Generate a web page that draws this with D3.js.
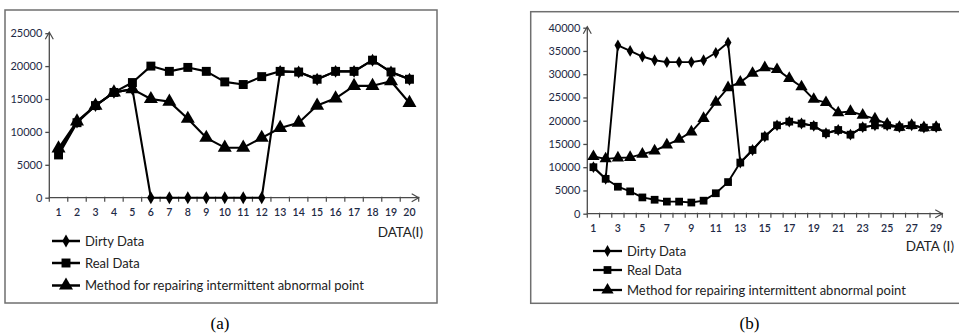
<!DOCTYPE html>
<html>
<head>
<meta charset="utf-8">
<script src="https://cdn.jsdelivr.net/npm/d3@7"></script>
<style>
  html, body { margin: 0; padding: 0; background: #fff; }
  svg { display: block; }
</style>
</head>
<body>
<svg id="chart" width="959" height="334"></svg>
<script>
// ---- Panel (a): 20 samples ----
const categoriesA = [1,2,3,4,5,6,7,8,9,10,11,12,13,14,15,16,17,18,19,20];
const tickLabelsA = ["1","2","3","4","5","6","7","8","9","10","11","12","13","14","15","16","17","18","19","20"];
const yTicksA = [0, 5000, 10000, 15000, 20000, 25000];
const dirtyA  = [7000, 11500, 14000, 16000, 16500, 0, 0, 0, 0, 0, 0, 0, 19200, 19100, 18000, 19200, 19200, 20900, 19100, 18000];
const realA   = [6500, 11400, 14000, 16000, 17500, 20000, 19200, 19800, 19200, 17600, 17200, 18400, 19200, 19100, 18000, 19200, 19200, 20900, 19100, 18000];
const methodA = [7500, 11600, 14000, 16000, 16500, 15000, 14600, 12000, 9100, 7600, 7600, 9100, 10600, 11400, 14000, 15100, 17000, 17000, 17700, 14400];

// ---- Panel (b): 29 samples ----
const categoriesB = [1,2,3,4,5,6,7,8,9,10,11,12,13,14,15,16,17,18,19,20,21,22,23,24,25,26,27,28,29];
const tickLabelsB = ["1","","3","","5","","7","","9","","11","","13","","15","","17","","19","","21","","23","","25","","27","","29"];
const yTicksB = [0, 5000, 10000, 15000, 20000, 25000, 30000, 35000, 40000];
const dirtyB  = [10000, 7500, 36200, 35000, 33800, 33000, 32600, 32600, 32600, 33000, 34600, 36800, 11000, 13700, 16600, 19000, 19800, 19400, 18900, 17300, 18000, 17000, 18600, 19000, 19000, 18600, 19000, 18500, 18600];
const realB   = [10000, 7500, 5800, 4800, 3500, 3000, 2600, 2600, 2400, 2800, 4400, 6800, 11000, 13700, 16600, 19000, 19800, 19400, 18900, 17300, 18000, 17000, 18600, 19000, 19000, 18600, 19000, 18500, 18600];
const methodB = [12300, 11800, 12000, 12100, 12800, 13500, 14800, 16000, 17600, 20500, 24000, 27100, 28300, 30200, 31400, 31000, 29100, 27300, 24600, 23900, 21700, 22000, 21200, 20400, 19300, 18600, 19000, 18500, 18600];

const legendLabels = ["Dirty Data", "Real Data", "Method for repairing intermittent abnormal point"];

const svg = d3.select("#chart");
const FONT = "Lato, 'Open Sans', sans-serif";
const TICK_COLOR = "#1e2a45";
const AXIS_COLOR = "#4a4a4a";

function markerPath(kind, s) {
  const sym = kind === "diamond" ? d3.symbolDiamond : kind === "square" ? d3.symbolSquare : d3.symbolTriangle;
  return d3.symbol().type(sym).size(s)();
}

function drawPanel(p) {
  const g = svg.append("g");

  // frame
  g.append("rect")
    .attr("x", p.frame.x).attr("y", p.frame.y)
    .attr("width", p.frame.w).attr("height", p.frame.h)
    .attr("fill", "none").attr("stroke", "#6f6f6f").attr("stroke-width", 1.5);

  const x = d3.scaleBand().domain(p.categories).range([p.x0, p.x0 + p.bw * p.categories.length]).padding(0);
  const y = d3.scaleLinear().domain([0, p.yMax]).range([p.y0, p.yTop]);

  // y axis
  const yAxis = d3.axisLeft(y).tickValues(p.yTicks).tickSize(4).tickPadding(3).tickFormat(d3.format("d"));
  const ya = g.append("g").attr("transform", `translate(${p.x0},0)`).call(yAxis);
  ya.select(".domain").remove();
  ya.selectAll("line").attr("stroke", AXIS_COLOR).attr("stroke-width", 1.3);
  ya.selectAll("text").attr("font-family", FONT).attr("font-size", p.yFont).attr("fill", TICK_COLOR);
  g.append("line").attr("x1", p.x0).attr("x2", p.x0).attr("y1", p.y0).attr("y2", p.yTop - 1)
    .attr("stroke", AXIS_COLOR).attr("stroke-width", 1.3);
  g.append("path")
    .attr("d", `M${p.x0 - 4},${p.yTop + 6}L${p.x0},${p.yTop - 1}L${p.x0 + 4},${p.yTop + 6}`)
    .attr("fill", "none").attr("stroke", AXIS_COLOR).attr("stroke-width", 1.2);

  // x axis: ticks on band boundaries, labels at band centres
  const xEnd = p.x0 + p.bw * p.categories.length;
  g.append("line").attr("x1", p.x0).attr("x2", xEnd).attr("y1", p.y0).attr("y2", p.y0)
    .attr("stroke", AXIS_COLOR).attr("stroke-width", 1.3);
  g.append("path")
    .attr("d", `M${xEnd - 7},${p.y0 - 4}L${xEnd},${p.y0}L${xEnd - 7},${p.y0 + 4}`)
    .attr("fill", "none").attr("stroke", AXIS_COLOR).attr("stroke-width", 1.2);
  const bounds = p.categories.map(c => x(c)).concat([xEnd]);
  g.selectAll(".xt").data(bounds).join("line")
    .attr("x1", d => d).attr("x2", d => d).attr("y1", p.y0 - 1).attr("y2", p.y0 + 4)
    .attr("stroke", AXIS_COLOR).attr("stroke-width", 1.2);
  g.selectAll(".xl").data(p.categories).join("text")
    .attr("x", d => x(d) + x.bandwidth() / 2).attr("y", p.xLabelY)
    .attr("text-anchor", "middle").attr("font-family", FONT).attr("font-size", p.xFont)
    .attr("font-weight", 600).attr("fill", TICK_COLOR)
    .text((d, i) => p.tickLabels[i]);

  g.append("text").attr("x", p.titleX).attr("y", p.titleY).attr("text-anchor", "end")
    .attr("font-family", FONT).attr("font-size", 13.5).attr("fill", "#222").text(p.axisTitle);

  const cx = d => x(d.c) + x.bandwidth() / 2;
  const series = [
    { vals: p.real, kind: "square", size: p.sqSize },
    { vals: p.method, kind: "triangle", size: p.triSize },
    { vals: p.dirty, kind: "diamond", size: p.diaSize }
  ];
  const line = d3.line().x(cx).y(d => y(d.v));
  series.forEach(s => {
    const pts = p.categories.map((c, i) => ({ c, v: s.vals[i] }));
    g.append("path").datum(pts).attr("d", line)
      .attr("fill", "none").attr("stroke", "#000").attr("stroke-width", p.lw).attr("stroke-linejoin", "round");
    g.selectAll(null).data(pts).join("path")
      .attr("d", markerPath(s.kind, s.size))
      .attr("transform", d => `translate(${cx(d)},${y(d.v)})`)
      .attr("fill", "#000");
  });

  // legend
  const legKinds = [["diamond", p.diaSize], ["square", p.sqSize], ["triangle", p.triSize]];
  legendLabels.forEach((lab, i) => {
    const ly = p.legY[i];
    g.append("line").attr("x1", p.legX).attr("x2", p.legX + p.legLen).attr("y1", ly).attr("y2", ly)
      .attr("stroke", "#000").attr("stroke-width", p.lw + 0.4);
    g.append("path").attr("d", markerPath(legKinds[i][0], legKinds[i][1]))
      .attr("transform", `translate(${p.legX + p.legLen / 2},${ly})`).attr("fill", "#000");
    g.append("text").attr("x", p.legX + p.legLen + 5).attr("y", ly + 4.5)
      .attr("font-family", FONT).attr("font-size", p.legFont).attr("fill", "#222").text(lab);
  });

  // caption
  g.append("text").attr("x", p.capX).attr("y", 329).attr("text-anchor", "middle")
    .attr("font-family", "'Liberation Serif', 'Times New Roman', serif").attr("font-size", 17)
    .attr("fill", "#000").text(p.caption);
}

drawPanel({
  frame: { x: 5, y: 10, w: 432, h: 293 },
  categories: categoriesA, tickLabels: tickLabelsA, yTicks: yTicksA, yMax: 25000,
  real: realA, method: methodA, dirty: dirtyA,
  x0: 49.3, bw: 18.47, y0: 197.7, yTop: 33.2,
  yFont: 11, xFont: 10.5, xLabelY: 216,
  axisTitle: "DATA(I)", titleX: 423, titleY: 237,
  lw: 2.1, sqSize: 80, triSize: 85, diaSize: 48,
  legX: 52, legLen: 28, legY: [241, 263, 285.5], legFont: 13,
  capX: 220, caption: "(a)"
});

drawPanel({
  frame: { x: 530.7, y: 11.7, w: 440, h: 291.6 },
  categories: categoriesB, tickLabels: tickLabelsB, yTicks: yTicksB, yMax: 40000,
  real: realB, method: methodB, dirty: dirtyB,
  x0: 587.3, bw: 12.24, y0: 213.7, yTop: 27.7,
  yFont: 11, xFont: 10.5, xLabelY: 232,
  axisTitle: "DATA (I)", titleX: 954, titleY: 251,
  lw: 1.9, sqSize: 60, triSize: 65, diaSize: 40,
  legX: 593, legLen: 29, legY: [251, 270, 290], legFont: 13,
  capX: 749.5, caption: "(b)"
});
</script>
</body>
</html>
